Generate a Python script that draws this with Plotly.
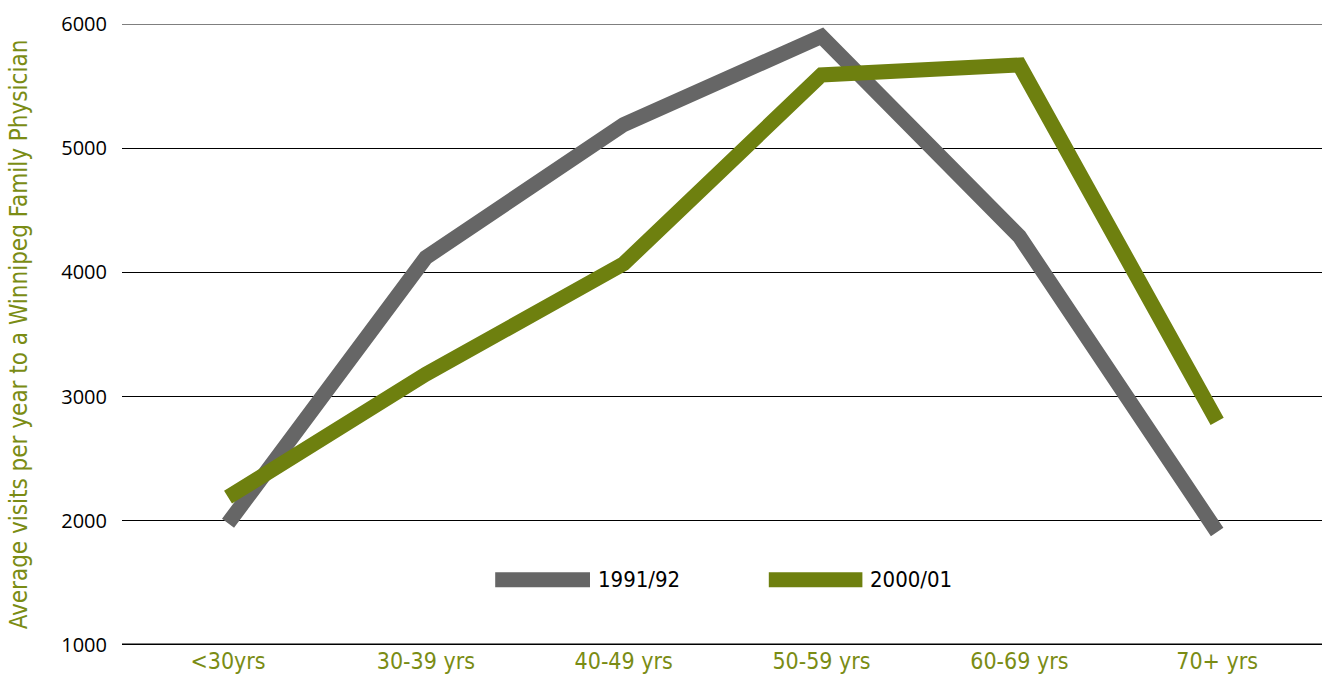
import plotly.graph_objects as go

categories = ["<30yrs", "30-39 yrs", "40-49 yrs", "50-59 yrs", "60-69 yrs", "70+ yrs"]
visits_1991 = [1980, 4120, 5190, 5900, 4290, 1910]
visits_2000 = [2190, 3180, 4070, 5590, 5670, 2800]
series_names = ["1991/92", "2000/01"]
gray = "#666666"
green = "#6E800F"
olive_text = "#7A8C14"
narrow = "Liberation Sans Narrow, DejaVu Sans Condensed, sans-serif"

fig = go.Figure()
fig.add_trace(go.Scatter(x=list(range(len(categories))), y=visits_1991, mode="lines",
                         line=dict(color=gray, width=15), name=series_names[0]))
fig.add_trace(go.Scatter(x=list(range(len(categories))), y=visits_2000, mode="lines",
                         line=dict(color=green, width=15), name=series_names[1]))

# custom legend (long swatches)
for (x0, x1, col, name) in [(0.311, 0.39, gray, series_names[0]), (0.539, 0.617, green, series_names[1])]:
    fig.add_shape(type="line", xref="paper", yref="paper", x0=x0, x1=x1, y0=0.105, y1=0.105,
                  line=dict(color=col, width=15))
    fig.add_annotation(xref="paper", yref="paper", x=x1 + 0.005, y=0.105, xanchor="left", yanchor="middle",
                       text=name, showarrow=False, font=dict(family=narrow, size=22, color="black"))

fig.update_layout(
    width=1322, height=696,
    margin=dict(l=122, r=0, t=24, b=51),
    plot_bgcolor="white", paper_bgcolor="white",
    showlegend=False,
    xaxis=dict(tickmode="array", tickvals=list(range(len(categories))), ticktext=categories,
               range=[-0.536, 5.53], showgrid=False, zeroline=False,
               showline=False, ticks="",
               tickfont=dict(family=narrow, size=23, color=olive_text)),
    yaxis=dict(range=[1000, 6000], dtick=1000, showgrid=True, gridcolor="black", gridwidth=1,
               zeroline=False, showline=False, ticks="", ticklabelstandoff=14,
               tickfont=dict(family="Open Sans, sans-serif", size=20, color="black"),
               title=dict(text="Average visits per year to a Winnipeg Family Physician",
                          font=dict(family=narrow, size=24, color=olive_text), standoff=26)),
)
fig.add_shape(type="line", xref="paper", yref="y", x0=0, x1=1, y0=1000, y1=1000,
              line=dict(color="black", width=3))
fig.add_shape(type="line", xref="paper", yref="y", x0=0, x1=1, y0=6000, y1=6000,
              line=dict(color="black", width=1), layer="below")
fig.write_html("out.html")
